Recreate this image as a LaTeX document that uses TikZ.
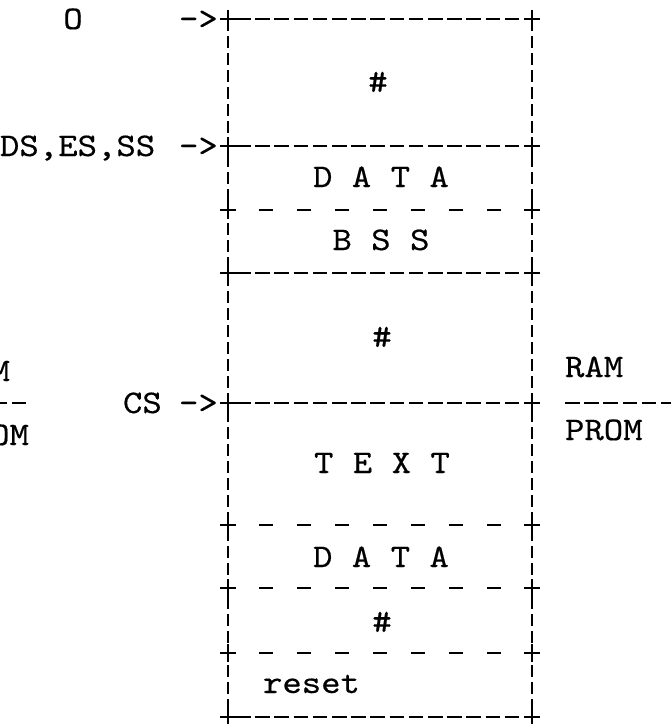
\documentclass[tikz,border=0pt]{standalone}
\usepackage{fontspec}
\setmonofont{lmmono10-regular.otf}[FakeBold=0.4]
\usetikzlibrary{calc}
\newcommand\twfont{\fontsize{33}{40}\selectfont\ttfamily}
\newcommand\tws[1]{\scalebox{1.12}[1]{#1}}
\tikzset{
  tw/.style={inner sep=0pt, outer sep=0pt, font=\twfont, anchor=base},
  twl/.style={tw, anchor=base west},
  twr/.style={tw, anchor=base east},
  rule/.style={line width=2.8pt, dash pattern=on 14.5pt off 4.7pt},
  sepline/.style={line width=2.8pt, dash pattern=on 14pt off 24pt},
  side/.style={line width=2pt, dash pattern=on 12pt off 5pt},
  cross/.style={line width=2.4pt},
}
\begin{document}
\begin{tikzpicture}[x=1pt,y=-1pt]
\useasboundingbox (0,0) rectangle (671,724);
\clip (0,0) rectangle (671,724);
\fill[white] (0,0) rectangle (671,724);
% corner levels of the memory map
\foreach \n/\y in {a/19,b/146,c/210,d/273,e/403,f/525,g/588,h/653,i/717} {
  \coordinate (\n L) at (228,\y);
  \coordinate (\n R) at (532,\y);
}
% side walls
\draw[side] (aL) -- (iL);
\draw[side] (aR) -- (iR);
% full rules
\foreach \n in {a,b,d,e,i} {
  \draw[rule] ($(\n L)+(8,0)$) -- ($(\n R)+(-8,0)$);
}
% separator rules
\foreach \n in {c,f,g,h} {
  \draw[sepline] ($(\n L)+(31,0)$) -- ($(\n R)+(-31,0)$);
}
% plus marks at the corners
\foreach \n in {a,b,c,d,e,f,g,h,i} {
  \draw[cross] ($(\n L)+(-8,0)$) -- ++(16,0) ($(\n L)+(0,-9)$) -- ++(0,18);
  \draw[cross] ($(\n R)+(-8,0)$) -- ++(16,0) ($(\n R)+(0,-9)$) -- ++(0,18);
}
% RAM / PROM dividers
\coordinate (ldivA) at (-7.4,403);
\coordinate (ldivB) at (27,403);
\coordinate (rdivA) at (565,403);
\coordinate (rdivB) at (690,403);
\draw[rule] (ldivA) -- (ldivB);
\draw[rule] (rdivA) -- (rdivB);
% labels
\node[tw]  (zero)  at (73,29)   {\tws{O}};
\node[twl] (arr1)  at (179,29)  {\tws{->}};
\node[tw]  (hash1) at (378,92)  {\tws{\#}};
\node[twl] (dses)  at (0,156)   {\tws{DS,ES,SS}};
\node[twl] (arr2)  at (179,156) {\tws{->}};
\node[tw]  (data1) at (381,187) {\tws{D A T A}};
\node[tw]  (bss)   at (381,250) {\tws{B S S}};
\node[tw]  (hash2) at (382,347) {\tws{\#}};
\node[twl] (ram)   at (565,377) {\tws{RAM}};
\node[twl] (prom)  at (565,440) {\tws{PROM}};
\node[twr] (ramL)  at (10,381)  {\tws{RAM}};
\node[twr] (promL) at (29,445)  {\tws{PROM}};
\node[twl] (cs)    at (123,413) {\tws{CS}};
\node[twl] (arr3)  at (179,413) {\tws{->}};
\node[tw]  (text)  at (382,473) {\tws{T E X T}};
\node[tw]  (data2) at (381,567) {\tws{D A T A}};
\node[tw]  (hash3) at (382,632) {\tws{\#}};
\node[twl] (reset) at (263,693) {\tws{reset}};
\end{tikzpicture}
\end{document}
